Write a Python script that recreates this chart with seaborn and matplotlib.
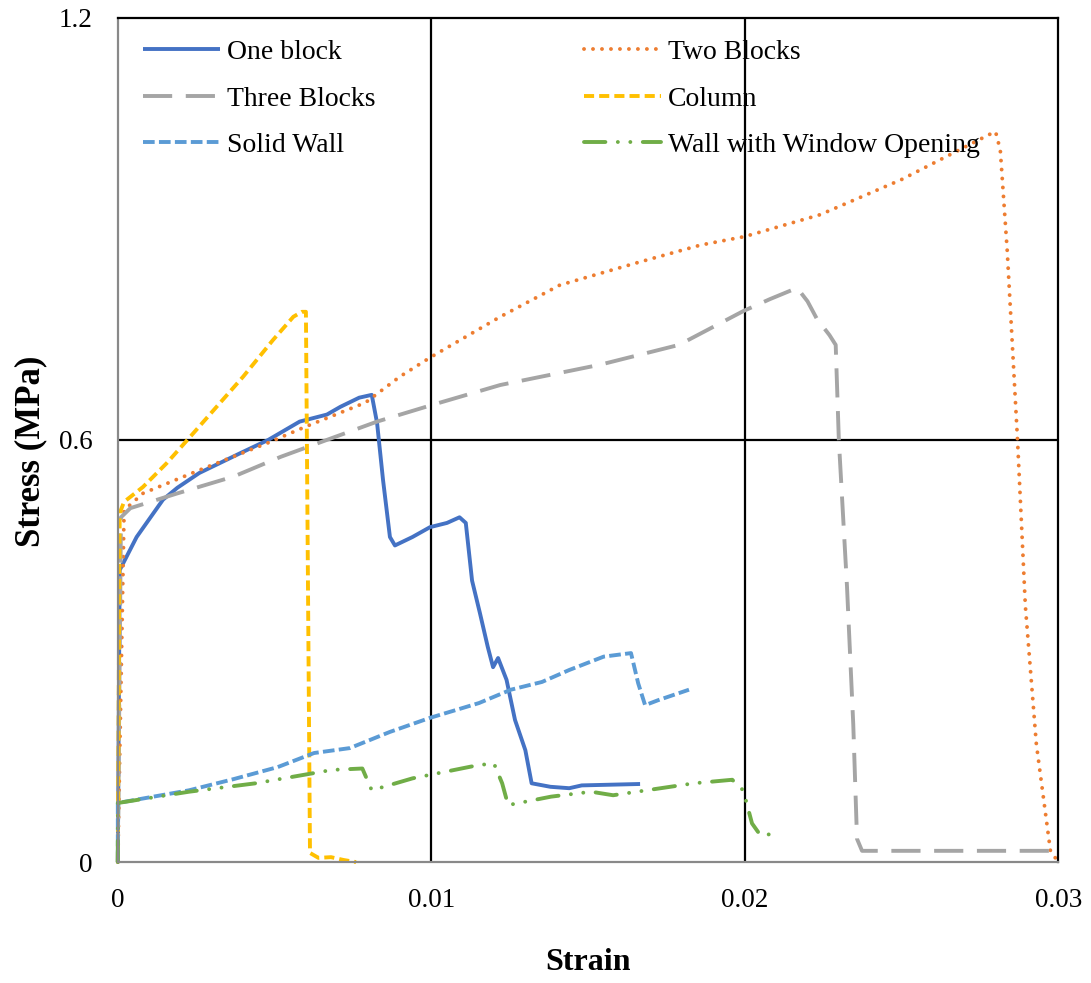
import matplotlib
matplotlib.use("Agg")
import matplotlib.pyplot as plt
import seaborn as sns

# valores (deformacao x tensao)
one_block_strain = [0, 0.00006, 0.0006, 0.00144, 0.0019, 0.0026, 0.0039, 0.0048, 0.0058, 0.00667,
                    0.0071, 0.0077, 0.0081, 0.00827, 0.00846, 0.00868, 0.00884, 0.0094, 0.00996,
                    0.0105, 0.0109, 0.0111, 0.0113, 0.01155, 0.0118, 0.01197, 0.01213, 0.0124,
                    0.01267, 0.013, 0.0132, 0.0138, 0.0144, 0.0148, 0.01666]
one_block_stress = [0, 0.415, 0.462, 0.515, 0.532, 0.553, 0.581, 0.600, 0.626, 0.636,
                    0.647, 0.660, 0.664, 0.624, 0.543, 0.462, 0.450, 0.462, 0.476,
                    0.482, 0.490, 0.482, 0.400, 0.354, 0.306, 0.277, 0.290, 0.259,
                    0.202, 0.159, 0.112, 0.107, 0.105, 0.109, 0.111]

two_blocks_strain = [0, 0.0002, 0.0008, 0.0026, 0.0048, 0.006, 0.0079, 0.009, 0.00996, 0.0122,
                     0.0141, 0.01666, 0.0186, 0.02, 0.0224, 0.025, 0.0278, 0.028, 0.02815,
                     0.02837, 0.0287, 0.02895, 0.0293, 0.02975, 0.03]
two_blocks_stress = [0, 0.50, 0.524, 0.557, 0.596, 0.619, 0.653, 0.690, 0.717, 0.775,
                     0.82, 0.853, 0.877, 0.889, 0.92, 0.97, 1.034, 1.038, 1.012,
                     0.87, 0.6, 0.364, 0.168, 0.016, 0]

three_blocks_strain = [0, 0.0001, 0.0004, 0.0019, 0.0037, 0.0052, 0.00667, 0.00827, 0.01005,
                       0.0122, 0.0154, 0.0179, 0.01995, 0.0208, 0.02167, 0.022, 0.0223, 0.0227,
                       0.0229, 0.023, 0.02326, 0.02346, 0.02358, 0.02374, 0.03]
three_blocks_stress = [0, 0.49, 0.503, 0.524, 0.548, 0.576, 0.600, 0.626, 0.650,
                       0.678, 0.707, 0.735, 0.783, 0.80, 0.816, 0.797, 0.772, 0.749,
                       0.735, 0.60, 0.392, 0.196, 0.033, 0.016, 0.016]

column_strain = [0, 0.00006, 0.0002, 0.0008, 0.00156, 0.0023, 0.00315, 0.004, 0.00495, 0.0056,
                 0.00587, 0.006, 0.00613, 0.0064, 0.0068, 0.0072, 0.0076]
column_stress = [0, 0.496, 0.512, 0.533, 0.567, 0.604, 0.647, 0.690, 0.742, 0.775,
                 0.782, 0.782, 0.013, 0.006, 0.007, 0.003, 0]

solid_wall_strain = [0, 0, 0.00227, 0.0037, 0.0051, 0.00626, 0.0074, 0.00868, 0.00996, 0.01152,
                     0.01254, 0.01353, 0.0144, 0.0155, 0.01637, 0.0166, 0.01682, 0.01723, 0.01822]
solid_wall_stress = [0, 0.084, 0.102, 0.118, 0.135, 0.155, 0.162, 0.185, 0.205, 0.226,
                     0.245, 0.256, 0.273, 0.292, 0.297, 0.254, 0.223, 0.230, 0.245]

window_strain = [0, 0, 0.00227, 0.0044, 0.00683, 0.0078, 0.0081, 0.0094, 0.01152, 0.012,
                 0.01226, 0.01245, 0.01382, 0.0151, 0.0158, 0.01838, 0.0196, 0.01995,
                 0.02023, 0.0205, 0.0211]
window_stress = [0, 0.084, 0.100, 0.112, 0.131, 0.133, 0.102, 0.119, 0.138, 0.140,
                 0.112, 0.081, 0.093, 0.100, 0.095, 0.112, 0.117, 0.102,
                 0.055, 0.038, 0.041]

x_ticks = [0, 0.01, 0.02, 0.03]
x_tick_labels = ['0', '0.01', '0.02', '0.03']
y_ticks = [0, 0.6, 1.2]
y_tick_labels = ['0', '0.6', '1.2']

sns.set_style("white")
plt.rcParams['font.family'] = ['Liberation Serif', 'DejaVu Serif']
plt.rcParams['text.color'] = 'black'
plt.rcParams['axes.labelcolor'] = 'black'
plt.rcParams['xtick.color'] = 'black'
plt.rcParams['ytick.color'] = 'black'

fig = plt.figure(figsize=(10.91, 9.83), dpi=100)
ax = fig.add_axes([0.108, 0.123, 0.862, 0.859])

lw = 2.8
series = [
    ('One block', one_block_strain, one_block_stress, '#4472C4', '-', 'butt'),
    ('Two Blocks', two_blocks_strain, two_blocks_stress, '#ED7D31', (0, (0.01, 2.3)), 'round'),
    ('Three Blocks', three_blocks_strain, three_blocks_stress, '#A5A5A5', (0, (7.5, 3.5)), 'butt'),
    ('Column', column_strain, column_stress, '#FFC000', (0, (2.6, 1.3)), 'butt'),
    ('Solid Wall', solid_wall_strain, solid_wall_stress, '#5B9BD5', (0, (3.0, 1.1)), 'butt'),
    ('Wall with Window Opening', window_strain, window_stress, '#70AD47',
     (0, (5.5, 3.2, 0.01, 3.2, 0.01, 3.2)), 'round'),
]

linhas = {}
for nome, xs, ys, cor, estilo, cap in series:
    sns.lineplot(x=xs, y=ys, ax=ax, sort=False, estimator=None, color=cor,
                 linestyle=estilo, linewidth=lw, label=nome, clip_on=False)
    linha = ax.get_lines()[-1]
    linha.set_dash_capstyle(cap)
    linha.set_solid_capstyle('butt')
    linhas[nome] = linha

ax.set_xlim(0, 0.03)
ax.set_ylim(0, 1.2)
ax.set_xticks(x_ticks)
ax.set_xticklabels(x_tick_labels)
ax.set_yticks(y_ticks)
ax.set_yticklabels(y_tick_labels)
ax.tick_params(axis='both', length=0, labelsize=19.5)
ax.tick_params(axis='x', pad=19)
ax.tick_params(axis='y', pad=18)

# grade preta
for xv in [0.01, 0.02]:
    ax.axvline(xv, color='black', lw=1.6, zorder=0)
ax.axhline(0.6, color='black', lw=1.6, zorder=0)

for lado in ['top', 'right']:
    ax.spines[lado].set_color('black')
    ax.spines[lado].set_linewidth(1.6)
for lado in ['left', 'bottom']:
    ax.spines[lado].set_color('#898989')
    ax.spines[lado].set_linewidth(1.6)

ax.set_xlabel('Strain', fontsize=23, fontweight='bold', labelpad=25)
ax.set_ylabel('Stress (MPa)', fontsize=25, fontweight='bold')
ax.yaxis.set_label_coords(-0.0747, 0.486)

ordem = ['One block', 'Three Blocks', 'Solid Wall', 'Two Blocks', 'Column',
         'Wall with Window Opening']
ax.legend(handles=[linhas[n] for n in ordem], labels=ordem, ncol=2, frameon=False,
          loc='upper left', bbox_to_anchor=(0.027, 0.974), borderaxespad=0, borderpad=0,
          fontsize=20, handlelength=2.77, handletextpad=0.25, columnspacing=7.5,
          labelspacing=0.76)

plt.savefig('out.png', dpi=100)
